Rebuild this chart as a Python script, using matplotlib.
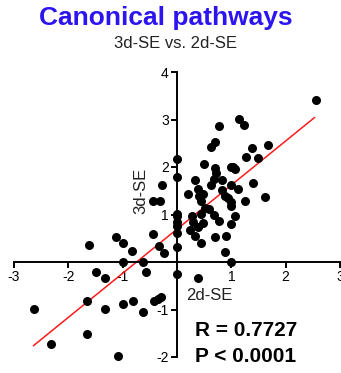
#!/usr/bin/python

"""
Canonical pathways: 3d-SE vs. 2d-SE scatter with a linear fit.
"""

import matplotlib
matplotlib.use('Agg')
import matplotlib.pyplot as plt

plt.rcParams['font.family'] = ['Liberation Sans', 'DejaVu Sans']

# log values
se_2d = [2.55, 1.14, 1.24, 0.77, 0.70, 0.63, 1.38, 1.68, 1.27, 1.49,
         0.00, 0.50, 0.70, 0.72, 1.00, 1.03, 1.07, 0.00, -0.28, 0.33,
         0.68, 0.83, 1.40, 0.63, 1.00, 0.39, 0.20, 0.48, 0.83, 1.13,
         0.89, 0.94, -0.44, -0.31, 0.44, 1.25, 1.62, 1.00, 1.00, 0.52,
         0.59, 0.68, 0.00, 0.28, 0.44, 1.07, 0.00, 0.30, 0.48, 1.00,
         0.00, 0.39, 0.24, 0.00, -0.44, 0.33, 0.70, 0.90, -1.13, -1.00,
         0.44, 0.00, -0.33, -1.62, -0.83, -0.24, 0.00, 0.89, -1.00, -0.63,
         1.00, -1.49, -1.33, -0.57, 0.00, 0.39, -1.66, -1.33, -1.00, -0.81,
         -0.63, -0.42, -0.35, -0.30, -2.64, -2.32, -1.66, -1.09, 0.77, 0.41]
se_3d = [3.42, 3.02, 2.89, 2.87, 2.52, 2.43, 2.41, 2.47, 2.22, 2.20,
         2.16, 2.07, 1.97, 1.88, 2.01, 1.99, 1.95, 1.78, 1.63, 1.72,
         1.74, 1.72, 1.67, 1.63, 1.63, 1.53, 1.44, 1.44, 1.51, 1.53,
         1.40, 1.34, 1.29, 1.29, 1.29, 1.29, 1.36, 1.27, 1.17, 1.13,
         1.11, 1.00, 1.02, 0.96, 1.02, 0.96, 0.85, 0.85, 0.83, 0.79,
         0.75, 0.73, 0.68, 0.62, 0.60, 0.54, 0.52, 0.54, 0.52, 0.39,
         0.39, 0.31, 0.33, 0.35, 0.24, 0.20, 0.96, 0.22, 0.01, 0.01,
         0.01, -0.22, -0.33, -0.22, -0.26, -0.33, -0.83, -0.98, -0.89, -0.83,
         -1.06, -0.83, -0.77, -0.73, -0.98, -1.72, -1.51, -1.97, 0.87, 1.40]

# regression line end points
fit_x = [-2.64, 2.53]
fit_y = [-1.76, 3.04]

r_text = 'R = 0.7727'
p_text = 'P < 0.0001'


def main():
    fig = plt.figure(figsize=(3.41, 3.73), dpi=100)
    ax = fig.add_axes([14 / 341, 16 / 373, 326 / 341, 285 / 373])

    ax.scatter(se_2d, se_3d, s=30, color='black', zorder=3, clip_on=False)
    ax.plot(fit_x, fit_y, color='#ff1a1a', lw=1.1, zorder=2)

    ax.set_xlim(-3, 3)
    ax.set_ylim(-2, 4)

    for side in ['top', 'right']:
        ax.spines[side].set_visible(False)
    ax.spines['left'].set_position(('data', 0))
    ax.spines['bottom'].set_position(('data', 0))
    ax.spines['left'].set_linewidth(1.4)
    ax.spines['bottom'].set_linewidth(1.4)

    ax.set_xticks([-3, -2, -1, 1, 2, 3])
    ax.set_xticklabels(['-3', '-2', '-1', '1', '2', '3'])
    ax.set_yticks([-2, -1, 1, 2, 3, 4])
    ax.set_yticklabels(['-2', '-1', '1', '2', '3', '4'])
    ax.tick_params(direction='out', length=4, width=1.4, labelsize=10,
                   pad=2, colors='black')

    ax.text(0.6, -0.7, '2d-SE', fontsize=12, color='#222222',
            ha='center', va='center')
    ax.text(-0.67, 1.5, '3d-SE', fontsize=12, color='#222222',
            ha='center', va='center', rotation=90)

    ax.text(0.33, -1.45, r_text, fontsize=15, fontweight='bold',
            ha='left', va='center')
    ax.text(0.33, -1.98, p_text, fontsize=15, fontweight='bold',
            ha='left', va='center')

    fig.text(166 / 341, 1 - 18 / 373, 'Canonical pathways', fontsize=19,
             fontweight='bold', color='#2b14f0', ha='center', va='center')
    fig.text(176 / 341, 1 - 43 / 373, '3d-SE vs. 2d-SE', fontsize=12,
             color='#222222', ha='center', va='center')

    fig.savefig('out.png', dpi=100)


if __name__ == "__main__":
    main()
